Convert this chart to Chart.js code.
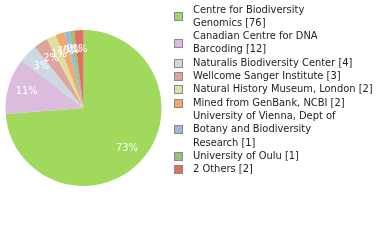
<!DOCTYPE html>
<html>
<head>
<meta charset="utf-8">
<script src="https://cdn.jsdelivr.net/npm/chart.js@4/dist/chart.umd.min.js"></script>
<style>
  html, body { margin: 0; padding: 0; background: #fff; }
  #wrap { position: relative; width: 380px; height: 240px; }
</style>
</head>
<body>
<div id="wrap"><canvas id="chart" width="380" height="240"></canvas></div>
<script>
// legend labels, already broken into lines like the original
const labels = [
    ['Centre for Biodiversity', 'Genomics [76]'],
    ['Canadian Centre for DNA', 'Barcoding [12]'],
    ['Naturalis Biodiversity Center [4]'],
    ['Wellcome Sanger Institute [3]'],
    ['Natural History Museum, London [2]'],
    ['Mined from GenBank, NCBI [2]'],
    ['University of Vienna, Dept of', 'Botany and Biodiversity', 'Research [1]'],
    ['University of Oulu [1]'],
    ['2 Others [2]']
];
const counts = [76, 12, 4, 3, 2, 2, 1, 1, 2];
const colors = ['#a0d95c', '#dcbcdd', '#cdd8e3', '#dea59c', '#dfdf9f', '#f0aa6e', '#97b8e0', '#9ac272', '#e07160'];

const fontFamily = '"DejaVu Sans Condensed", "DejaVu Sans", sans-serif';
const total = counts.reduce((a, b) => a + b, 0);

// white percentage text inside each slice
const sliceLabels = {
    id: 'sliceLabels',
    afterDatasetsDraw(chart) {
        const ctx = chart.ctx;
        const meta = chart.getDatasetMeta(0);
        ctx.save();
        ctx.font = '11px ' + fontFamily;
        ctx.fillStyle = '#fff';
        ctx.textAlign = 'center';
        ctx.textBaseline = 'middle';
        meta.data.forEach((arc, i) => {
            const p = arc.getProps(['x', 'y', 'startAngle', 'endAngle', 'outerRadius'], true);
            const mid = (p.startAngle + p.endAngle) / 2;
            const r = p.outerRadius * 0.76;
            const pct = Math.floor(counts[i] / total * 100);
            ctx.fillText(pct + '%', p.x + Math.cos(mid) * r, p.y + Math.sin(mid) * r);
        });
        ctx.restore();
    }
};

// legend on the right with wrapped lines
const sideLegend = {
    id: 'sideLegend',
    afterDraw(chart) {
        const ctx = chart.ctx;
        const lineH = 13.3;
        let y = 3;
        ctx.save();
        ctx.font = '11px ' + fontFamily;
        ctx.textBaseline = 'middle';
        ctx.textAlign = 'left';
        chart.data.labels.forEach((lines, i) => {
            const h = lines.length * lineH;
            const boxY = Math.round(y + h / 2 - 4);
            ctx.fillStyle = colors[i];
            ctx.fillRect(174.5, boxY + 0.5, 8, 8);
            ctx.strokeStyle = '#8a8a8a';
            ctx.lineWidth = 1;
            ctx.strokeRect(174.5, boxY + 0.5, 8, 8);
            ctx.fillStyle = '#222';
            lines.forEach((t, j) => {
                ctx.fillText(t, 193, y + lineH * j + lineH / 2);
            });
            y += h;
        });
        ctx.restore();
    }
};

new Chart(document.getElementById('chart'), {
    type: 'pie',
    data: {
        labels: labels,
        datasets: [{
            data: counts,
            backgroundColor: colors,
            borderWidth: 0,
            hoverOffset: 0
        }]
    },
    options: {
        responsive: false,
        animation: false,
        layout: { padding: { left: 5, top: 30, right: 218, bottom: 54 } },
        plugins: {
            legend: { display: false },
            tooltip: { enabled: false }
        }
    },
    plugins: [sliceLabels, sideLegend]
});
</script>
</body>
</html>
